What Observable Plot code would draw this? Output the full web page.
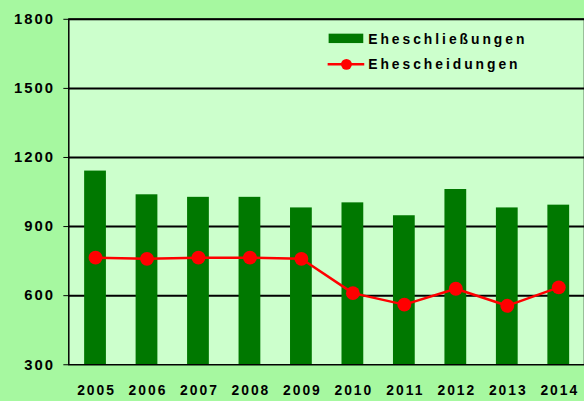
<!DOCTYPE html>
<html><head><meta charset="utf-8">
<script src="https://cdn.jsdelivr.net/npm/d3@7"></script>
<script src="https://cdn.jsdelivr.net/npm/@observablehq/plot@0.6"></script>
<style>
html,body{margin:0;padding:0;background:#a6f8a0;overflow:hidden;width:584px;height:401px;}
#chart svg{display:block;}
#chart svg text{letter-spacing:2px;}
#chart svg .legend text{letter-spacing:3px;font-weight:bold;font-size:14px;font-family:"Liberation Sans",Arial,sans-serif;}
</style></head><body><div id="chart"></div>
<script>
const years = ["2005","2006","2007","2008","2009","2010","2011","2012","2013","2014"];
const marriages = [1141,1038,1027,1027,981,1003,947,1061,981,993];
const divorces = [765,760,765,765,760,611,561,630,556,636];
const yTicks = [300,600,900,1200,1500,1800];
const gridTicks = [600,900,1200,1500,1800];
const seriesNames = ["Eheschließungen","Ehescheidungen"];

const data = years.map((y,i)=>({year:y, marriages:marriages[i], divorces:divorces[i]}));
const FONT = '"Liberation Sans", Arial, sans-serif';

const chart = Plot.plot({
  width:590, height:401, marginLeft:69, marginRight:0, marginTop:19, marginBottom:33,
  style:{background:"transparent", color:"black", fontFamily:FONT, overflow:"visible"},
  x:{domain:years, paddingInner:0.58, paddingOuter:0.29, axis:null, label:null},
  y:{domain:[300,1800], axis:null, label:null},
  marks:[
    Plot.frame({fill:"#ccffcc"}),
    Plot.ruleY(gridTicks, {stroke:"black", strokeWidth:2}),
    Plot.barY(data, {x:"year", y1:300, y2:"marriages", fill:"#007800"}),
    Plot.line(data, {x:"year", y:"divorces", stroke:"#ff0000", strokeWidth:2.5}),
    Plot.dot(data, {x:"year", y:"divorces", r:7, fill:"#ff0000"}),
    Plot.frame({stroke:"black", strokeWidth:1.5}),
    Plot.axisY({ticks:yTicks, tickSize:5, tickPadding:9, fontSize:15, fontWeight:"bold", tickFormat:d=>String(d), label:null}),
    Plot.axisX({tickSize:0, tickPadding:21, fontSize:14, fontWeight:"bold", dx:1, label:null})
  ]
});
document.getElementById("chart").appendChild(chart);

// legend
const svg = d3.select(chart);
const lg = svg.append("g").attr("class","legend").attr("fill","black").attr("text-anchor","start");
lg.append("rect").attr("x",332).attr("y",34).attr("width",35).attr("height",9.5).attr("fill","#007800");
lg.append("text").attr("x",372).attr("y",40).attr("dy","0.35em").attr("font-weight","bold").text(seriesNames[0]);
lg.append("line").attr("x1",331).attr("x2",368).attr("y1",65).attr("y2",65).attr("stroke","#ff0000").attr("stroke-width",2.5);
lg.append("circle").attr("cx",350).attr("cy",65).attr("r",5.5).attr("fill","#ff0000");
lg.append("text").attr("x",372).attr("y",65).attr("dy","0.35em").attr("font-weight","bold").text(seriesNames[1]);
</script></body></html>
